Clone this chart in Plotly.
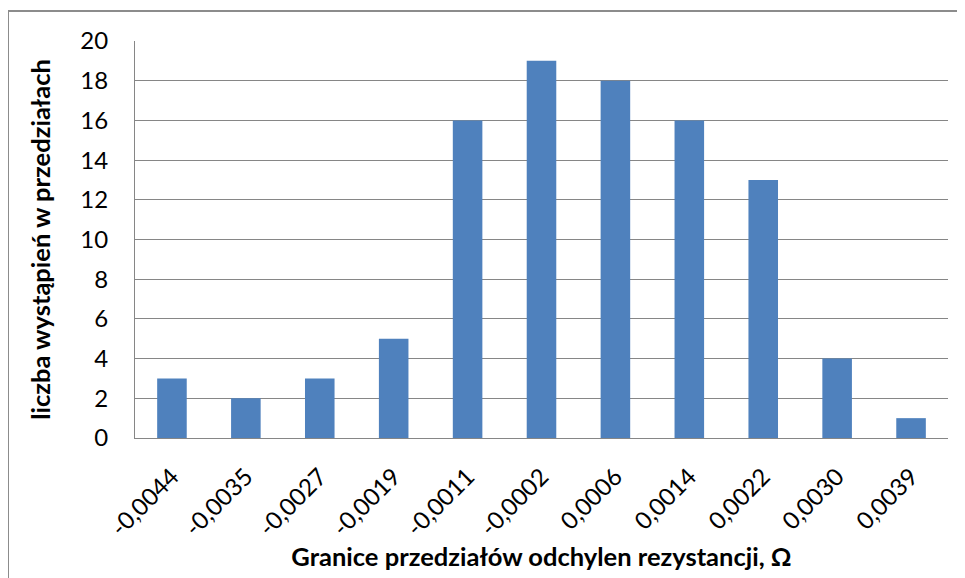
import plotly.graph_objects as go

categories = ["-0,0044", "-0,0035", "-0,0027", "-0,0019", "-0,0011", "-0,0002",
              "0,0006", "0,0014", "0,0022", "0,0030", "0,0039"]
counts = [3, 2, 3, 5, 16, 19, 18, 16, 13, 4, 1]
y_ticks = list(range(0, 21, 2))

W, H = 965, 578
OFF = 8  # page body offset
L, R, T, B = 135 - OFF, 948 - OFF, 41 - OFF, 438 - OFF

fig = go.Figure(go.Bar(x=categories, y=counts, marker=dict(color="#4F81BD", line=dict(width=0)),
                       width=0.4))

fig.update_layout(
    width=W, height=H,
    margin=dict(l=L, r=W - R, t=T, b=H - B, autoexpand=False),
    paper_bgcolor="white", plot_bgcolor="white",
    font=dict(family="Lato, Open Sans, sans-serif", color="#000000"),
    showlegend=False,
    bargap=0.6,
)
fig.update_xaxes(
    type="category", tickangle=-45, tickfont=dict(size=24),
    showline=True, linecolor="#868686", linewidth=1, showgrid=False,
    ticks="", ticklabelstandoff=14,
    title=dict(text="<b>Granice przedziałów odchylen rezystancji, Ω</b>",
               font=dict(size=25.5), standoff=0),
)
fig.update_yaxes(
    range=[0, 20], tickvals=y_ticks, tickfont=dict(size=24),
    showline=True, linecolor="#868686", linewidth=1,
    showgrid=True, gridcolor="#868686", gridwidth=1,
    ticks="", ticklabelstandoff=21, zeroline=False,
    title=dict(text="<b>liczba wystąpień w przedziałach</b>", font=dict(size=25.5), standoff=22),
)

# outer chart frame (left and top edges visible)
fx = (8 - OFF - L) / (R - L)
fy = (B - (11 - OFF)) / (B - T)
fig.add_shape(type="line", xref="paper", yref="paper", x0=fx, x1=fx, y0=-1, y1=fy,
              line=dict(color="#8c8c8c", width=2))
fig.add_shape(type="line", xref="paper", yref="paper", x0=fx, x1=2, y0=fy, y1=fy,
              line=dict(color="#8c8c8c", width=2))

fig.write_html("out.html")
